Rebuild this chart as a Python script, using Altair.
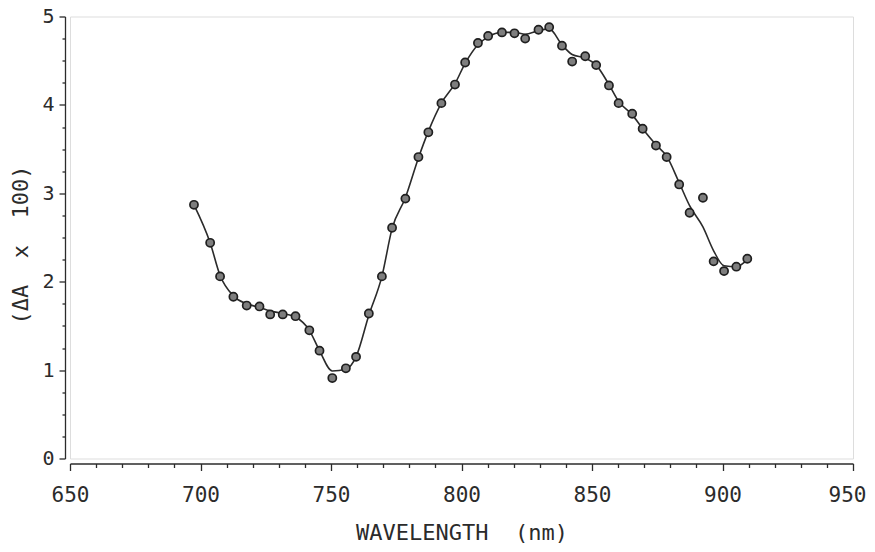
import altair as alt
import pandas as pd

wavelength = [697.5, 703.7, 707.5, 712.6, 717.7, 722.6, 726.7, 731.5, 736.4, 741.7,
              745.6, 750.5, 755.7, 759.6, 764.5, 769.5, 773.4, 778.5, 783.5, 787.3,
              792.3, 797.5, 801.4, 806.3, 810.2, 815.5, 820.3, 824.4, 829.5, 833.6,
              838.5, 842.4, 847.4, 851.6, 856.5, 860.2, 865.4, 869.4, 874.5, 878.6,
              883.4, 887.4, 892.5, 896.6, 900.6, 905.3, 909.5]
# measured points
delta_a = [2.87, 2.44, 2.06, 1.83, 1.73, 1.72, 1.63, 1.63, 1.61, 1.45,
           1.22, 0.91, 1.02, 1.15, 1.64, 2.06, 2.61, 2.94, 3.41, 3.69,
           4.02, 4.23, 4.48, 4.70, 4.78, 4.82, 4.81, 4.75, 4.85, 4.88,
           4.67, 4.49, 4.55, 4.45, 4.22, 4.02, 3.90, 3.73, 3.54, 3.41,
           3.10, 2.78, 2.95, 2.23, 2.12, 2.17, 2.26]
# smooth fitted curve at the same wavelengths
fit_curve = [2.87, 2.44, 2.07, 1.84, 1.75, 1.71, 1.67, 1.64, 1.60, 1.45,
             1.22, 0.99, 1.01, 1.15, 1.62, 2.06, 2.60, 2.95, 3.40, 3.70,
             4.02, 4.24, 4.47, 4.68, 4.77, 4.82, 4.82, 4.80, 4.84, 4.86,
             4.68, 4.57, 4.53, 4.45, 4.23, 4.04, 3.89, 3.73, 3.55, 3.42,
             3.12, 2.86, 2.62, 2.35, 2.18, 2.17, 2.25]

x_ticks = list(range(650, 951, 10))
y_ticks = [i * 0.25 for i in range(0, 21)]

df = pd.DataFrame({"wl": wavelength, "dA": delta_a, "fit": fit_curve})

FONT = "DejaVu Sans Mono"
INK = "#2b2b2b"

x_axis = alt.Axis(
    values=x_ticks,
    labelExpr="datum.value % 50 === 0 ? '' + datum.value : ''",
    tickSize={"condition": {"test": "datum.value % 50 === 0", "value": 7}, "value": 4},
    labelOffset={"condition": {"test": "datum.value === 950", "value": -6}, "value": 0},
    offset=5, grid=False, domainColor=INK, tickColor=INK, tickWidth=1.3, domainWidth=1.3,
    labelFont=FONT, labelFontSize=21, labelColor=INK, labelPadding=14,
    labelOverlap=False, labelFlush=False,
    title="WAVELENGTH\u00a0\u00a0(nm)", titleFont=FONT, titleFontSize=22, titleFontWeight="normal",
    titleColor=INK, titlePadding=17,
)
y_axis = alt.Axis(
    values=y_ticks,
    labelExpr="datum.value % 1 === 0 ? '' + datum.value : ''",
    tickSize={"condition": {"test": "datum.value % 1 === 0", "value": 6}, "value": 3},
    offset=5, grid=False, domainColor=INK, tickColor=INK, tickWidth=1.3, domainWidth=1.3,
    labelFont=FONT, labelFontSize=20, labelColor=INK, labelPadding=5,
    labelOverlap=False, labelFlush=False,
    title="(ΔA\u00a0\u00a0x\u00a0\u00a0100)", titleFont=FONT, titleFontSize=22, titleFontWeight="normal",
    titleColor=INK, titlePadding=9, titleY=228,
)

x_enc = alt.X("wl:Q", scale=alt.Scale(domain=[650, 950], nice=False, zero=False), axis=x_axis)

base = alt.Chart(df).encode(x=x_enc)

line = base.mark_line(interpolate="monotone", color=INK, strokeWidth=1.6).encode(
    y=alt.Y("fit:Q", scale=alt.Scale(domain=[0, 5], nice=False), axis=y_axis))
pts = base.mark_circle(size=66, fill="#7e7e7e", stroke="#1f1f1f", strokeWidth=1.7, opacity=1).encode(
    y=alt.Y("dA:Q", scale=alt.Scale(domain=[0, 5], nice=False), axis=y_axis))

chart = alt.layer(line, pts).properties(
    width=783, height=442,
    padding={"left": 62, "top": 8.5, "right": 14, "bottom": 86},
    autosize=alt.AutoSizeParams(type="none"),
).configure_view(stroke=None).configure(background="white")

chart.save("out.html", embed_options={"renderer": "svg", "actions": False})
